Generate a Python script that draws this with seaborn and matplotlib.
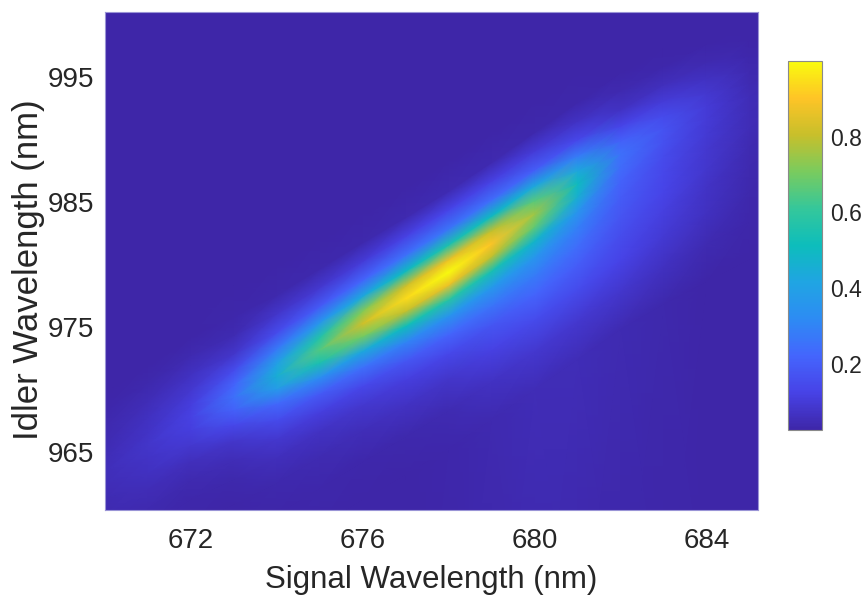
import numpy as np
import matplotlib
matplotlib.use("Agg")
import matplotlib.pyplot as plt
import seaborn as sns

# Signal wavelength columns (nm) and the idler wavelength of the ridge maximum in each
signal_nm = [669, 670, 671, 672, 673, 674, 675, 676, 677, 678, 679, 680, 681, 682, 683, 684, 685, 686]
ridge_idler_nm = [961.5, 963.5, 965.6, 967.8, 969.4, 971.1, 973.2, 975.3, 977.3, 979.4,
                  981.7, 984.1, 986.5, 988.9, 990.9, 992.7, 994.5, 996.2]

# Idler offsets (nm) from the ridge at which intensity is sampled
offset_nm = [-40, -14, -11, -8.5, -6.5, -5, -3.5, -2.2, -1, 0, 1, 2.2, 3.5, 5, 6.5, 9, 40]

b = 0.026  # background level
# Normalised joint spectral intensity: one profile (over offset_nm) per signal column
intensity = [
    [b, b, b, b, b, b, b, b, b, b, b, b, b, b, b, b, b],                                        # 669
    [b, b, b, b, .030, .035, .040, .045, .050, .055, .050, .045, .040, .030, b, b, b],          # 670
    [b, b, b, b, .030, .040, .050, .065, .075, .080, .075, .065, .050, .035, b, b, b],          # 671
    [b, b, b, b, .030, .040, .060, .090, .110, .120, .110, .090, .065, .040, .028, b, b],       # 672
    [b, b, b, b, .035, .050, .080, .140, .210, .250, .220, .150, .080, .045, .030, b, b],       # 673
    [b, b, b, .035, .060, .090, .150, .230, .380, .450, .400, .270, .150, .080, .035, b, b],    # 674
    [b, b, .030, .045, .070, .110, .190, .330, .550, .650, .570, .360, .190, .090, .035, b, b], # 675
    [b, b, .030, .055, .090, .140, .250, .430, .700, .820, .720, .430, .220, .100, .035, b, b], # 676
    [b, .028, .035, .070, .110, .180, .300, .520, .800, .940, .820, .500, .250, .120, .040, b, b],  # 677
    [b, .030, .045, .080, .140, .220, .350, .580, .870, 1.00, .870, .550, .260, .130, .045, b, b],  # 678
    [b, .040, .070, .120, .180, .260, .370, .540, .800, .900, .800, .500, .240, .120, .040, b, b],  # 679
    [b, .050, .090, .150, .220, .280, .360, .480, .680, .750, .660, .430, .200, .100, .035, b, b],  # 680
    [b, .050, .090, .150, .200, .240, .290, .360, .460, .500, .430, .280, .140, .070, .030, b, b],  # 681
    [b, .045, .085, .125, .155, .175, .195, .215, .240, .250, .210, .130, .070, .040, b, b, b],     # 682
    [b, .035, .065, .095, .115, .130, .140, .150, .165, .170, .145, .100, .060, .032, b, b, b],     # 683
    [b, .028, .045, .065, .075, .085, .090, .095, .100, .100, .090, .065, .040, b, b, b, b],        # 684
    [b, b, .030, .035, .040, .045, .050, .050, .050, .045, .040, .030, b, b, b, b, b],              # 685
    [b, b, b, b, b, b, b, b, b, b, b, b, b, b, b, b, b],                                        # 686
]

x_ticks = [672, 676, 680, 684]
y_ticks = [965, 975, 985, 995]
cbar_ticks = [0.2, 0.4, 0.6, 0.8]

sns.set_theme(style="white")
plt.rcParams["font.family"] = ["Liberation Sans", "DejaVu Sans"]
text_color = "#262626"

# Parula-like colour map assembled from anchor colours
parula_anchors = [
    (0.2422, 0.1504, 0.6603), (0.2788, 0.2598, 0.9035), (0.2670, 0.3973, 0.9924),
    (0.1768, 0.5452, 0.9560), (0.1253, 0.6453, 0.8887), (0.0504, 0.7423, 0.7359),
    (0.2061, 0.7808, 0.6065), (0.4753, 0.7977, 0.3691), (0.7829, 0.7495, 0.1675),
    (0.9958, 0.7687, 0.1517), (0.9763, 0.9831, 0.0538),
]
parula = sns.blend_palette(parula_anchors, n_colors=256, as_cmap=True)

fig = plt.figure(figsize=(8.66, 5.95), dpi=100)
ax = fig.add_axes([0.1212, 0.1429, 0.7541, 0.8369])
cax = fig.add_axes([0.9099, 0.2773, 0.0393, 0.6207])

sig = np.array(signal_nm, dtype=float)
ridge = np.array(ridge_idler_nm, dtype=float)
off = np.array(offset_nm, dtype=float)
X = np.tile(sig, (len(off), 1))
Y = ridge[None, :] + off[:, None]
C = np.array(intensity, dtype=float).T

mesh = ax.pcolormesh(X, Y, C, shading="gouraud", cmap=parula,
                     vmin=0.026, vmax=1.0, rasterized=True)

ax.set_xlim(670.0, 685.2)
ax.set_ylim(960.4, 1000.2)
ax.set_xticks(x_ticks)
ax.set_yticks(y_ticks)
ax.tick_params(axis="x", length=0, pad=13, labelsize=20, colors=text_color)
ax.tick_params(axis="y", length=0, pad=8, labelsize=20, colors=text_color)
ax.set_xlabel("Signal Wavelength (nm)", fontsize=22.5, color=text_color, labelpad=8)
ax.set_ylabel("Idler Wavelength (nm)", fontsize=25, color=text_color)
ax.yaxis.set_label_coords(-0.092, 0.482)
for sp in ax.spines.values():
    sp.set_color("#9a94d6")
    sp.set_linewidth(0.8)

cb = fig.colorbar(mesh, cax=cax)
cb.set_ticks(cbar_ticks)
cb.ax.tick_params(direction="in", length=4, width=0.8, color="#262626",
                  labelsize=16.5, labelcolor=text_color, pad=6)
cb.outline.set_edgecolor("#8a8a8a")
cb.outline.set_linewidth(0.8)

fig.savefig("out.png", dpi=100)
